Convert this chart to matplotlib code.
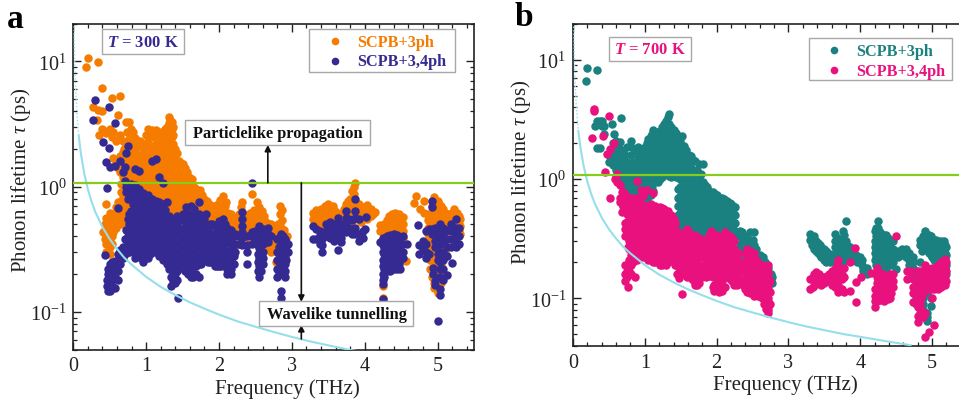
import matplotlib
matplotlib.use("Agg")
from matplotlib import pyplot as plt
from matplotlib.lines import Line2D
from matplotlib.patches import Rectangle
from matplotlib.ticker import LogLocator, MultipleLocator, NullFormatter

plt.rcParams['font.family'] = ['Liberation Serif', 'DejaVu Serif']
plt.rcParams['mathtext.fontset'] = 'custom'
plt.rcParams['mathtext.rm'] = 'Liberation Serif'
plt.rcParams['mathtext.it'] = 'Liberation Serif:italic'
plt.rcParams['mathtext.bf'] = 'Liberation Serif:bold'
plt.rcParams['mathtext.bfit'] = 'Liberation Serif:italic:bold'

W, H = 959, 402

# limit curve, same in both panels
limit_freq = [.01, .02, .03, .05, .075, .1, .15, .2, .25, .3, .4, .5, .6, .7, .8, 1.0, 1.2, 1.4, 1.6, 1.8,
              2.0, 2.25, 2.5, 2.75, 3, 3.25, 3.5, 3.77, 4.0, 4.35, 4.7]
limit_tau = [19, 9.5, 6.3, 3.8, 2.53, 1.9, 1.27, .95, .76, .63, .475, .38, .317, .27, .238, .19, .158, .136,
             .119, .106, .095, .084, .076, .069, .063, .058, .054, .05, .0475, .0437, .0404]

# panel a, 300 K, SCPB+3ph: one frequency column, then its lifetimes
a3_freq = [.18, .2, .27, .32, .335, .35, .39, .41, .43, .45, .5, .53, .55, .58, .61, .64, .68, .72, .77, .79, .85,
           .91, .97, 1.03, 1.08, 1.14, 1.2, 1.26, 1.31, 1.35, 1.39, 1.45, 1.5, 1.56, 1.63, 1.68, 1.74, 1.8, 1.86,
           1.92, 1.98, 2.05, 2.1, 2.16, 2.22, 2.28, 2.32, 2.38, 2.45, 2.52, 2.59, 2.65, 2.72, 2.78, 2.84, 2.89,
           2.94, 3.29, 3.33, 3.4, 3.45, 3.5, 3.56, 3.62, 3.68, 3.74, 3.8, 3.85, 3.87, 3.92, 3.98, 4.03, 4.08,
           4.14, 4.21, 4.25, 4.27, 4.33, 4.38, 4.42, 4.47, 4.53, 4.57, 4.67, 4.71, 4.76, 4.82, 4.87, 4.9, 4.95,
           5.0, 5.05, 5.1, 5.16, 5.22, 5.27, 5.31]
a3_tau = [[9.0], [10.6], [4.3], [3.4], [9.8, 4.1], [2.6], [6.1, 4.0, 2.9], [2.8, .43], [.5, .45, .38],
          [2.65, .72, .56, .42, .35, .3], [2.9, .62, .52, .44, .38, .33, .29], [5.1, 2.5, .54, .47, .4, .35],
          [2.7, 1.7, .6, .5, .43], [2.3, 1.55, .68, .56, .47], [3.7, 1.65, 1.4, .75, .62, .52],
          [5.3, 2.6, 1.75, 1.3, .7, .58, .5], [2.3, 1.9, 1.5, 1.2, .83, .72, .6, .5],
          [3.3, 2.1, 1.6, 1.35, 1.12, .95, .8, .68, .58],
          [3.3, 2.4, 1.95, 1.6, 1.36, 1.16, .98, .83, .7, .59, .5],
          [2.9, 2.1, 1.78, 1.5, 1.26, 1.07, .9, .76, .64, .54],
          [2.45, 1.93, 1.63, 1.38, 1.16, .98, .83, .7, .59, .5],
          [2.3, 1.78, 1.5, 1.26, 1.07, .9, .76, .64, .54],
          [2.2, 1.93, 1.63, 1.38, 1.16, .98, .83, .7, .59, .5],
          [2.9, 2.3, 1.78, 1.5, 1.26, 1.07, .9, .76, .64, .54],
          [2.85, 2.1, 1.63, 1.38, 1.16, .98, .83, .7, .59, .5],
          [2.85, 2.2, 1.85, 1.5, 1.26, 1.07, .9, .76, .64, .54],
          [2.7, 2.3, 1.93, 1.63, 1.38, 1.16, .98, .83, .7, .59, .5],
          [2.9, 2.5, 2.1, 1.78, 1.5, 1.26, 1.07, .9, .76, .64, .54],
          [3.6, 3.2, 2.8, 2.4, 2.05, 1.7, 1.4, 1.16, .98, .83, .7, .59],
          [3.3, 2.9, 2.5, 2.15, 1.8, 1.5, 1.26, 1.07, .9, .76, .64, .54],
          [2.0, 1.7, 1.38, 1.16, .98, .83, .7, .59], [1.6, 1.3, 1.07, .9, .76, .64, .54],
          [1.5, 1.2, .98, .83, .7, .59, .5], [1.3, 1.07, .9, .76, .64, .54], [1.15, 1.05, .95, .83, .7, .59, .5],
          [.95, .76, .64, .54, .45], [.93, .78, .66, .56, .47], [.8, .68, .57, .48, .4], [.72, .6, .5, .42],
          [.7, .58, .5, .42], [.72, .6, .5, .42], [.84, .72, .62, .52, .44, .37, .3], [.75, .6, .5, .42, .3, .26],
          [.6, .5, .43, .34, .28], [.56, .47, .4, .34], [.6, .5, .42, .35], [.75, .62, .52, .44],
          [.55, .46, .4, .34], [.87, .6, .5, .42, .36], [.75, .6, .5, .42, .35], [.64, .54, .45, .38],
          [.52, .44, .38, .32], [.5, .42, .36, .3], [.45, .38, .32, .25], [.7, .6, .5, .42, .36, .3],
          [.45, .38, .32, .26], [.4, .35, .3], [.62, .55], [.65, .57, .5], [.66, .58, .51], [.7, .6, .52],
          [.72, .63, .55, .48], [.7, .6, .52], [.62, .55, .48], [.6, .52], [.72, .62, .54, .47], [.8, .68, .58, .5],
          [1.0, .87, .77, .66, .57], [1.07, .7], [.72, .62, .54], [.66, .58], [.71, .62, .55], [.66, .58], [.63],
          [.49, .44], [.16, .13], [.5, .44, .4], [.58, .5, .44, .39, .35], [.6, .53, .46, .4, .36],
          [.61, .54, .47, .41, .36], [.6, .53, .46, .4, .36], [.57, .5, .44, .39, .35], [.255], [.74], [.84], [.66],
          [.77, .62], [.6, .54, .47, .42], [.5, .44, .38, .33, .29, .26, .22],
          [.83, .72, .62, .52, .45, .38, .33, .28, .24, .2, .17, .155],
          [.76, .66, .56, .45, .35, .3, .26, .22, .19, .16, .14],
          [.7, .6, .52, .46, .4, .34, .28, .24, .2, .17], [.62, .54, .46, .4, .34, .3], [.6, .52, .46],
          [.66, .58, .5, .44], [.62, .54, .46, .4], [.55, .48, .42]]
# more of the same series, in the gaps of the dense blobs
a3_freq2 = [.66, .7, .74, .82, .88, .94, 1.0, 1.06, 1.11, 1.17, 1.23, 1.29, 1.33, 1.37, 1.42, 1.48, 1.53, 1.59, 1.65,
            1.71, 1.77, 1.83, 1.89, 1.95, 2.02, 2.08, 2.13, 2.19, 2.25, 2.3, 2.35, 2.42, 2.48, 2.55, 2.62, 2.69, 2.75,
            2.81, 2.87, 3.31, 3.37, 3.43, 3.48, 3.53, 3.59, 3.65, 3.71, 3.77, 3.83, 3.9, 3.95, 4.0, 4.06, 4.11, 4.3,
            4.36, 4.4, 4.45, 4.5, 4.92, 4.97, 5.02, 5.08, 5.13, 5.2, 5.25, 5.29]
a3_tau2 = [[1.65, 1.05, .9, .77, .65, .55], [2.0, 1.75, 1.35, 1.02, .88, .74, .63, .53],
           [2.7, 1.85, 1.47, 1.22, 1.03, .87, .74, .62], [2.7, 2.2, 1.72, 1.46, 1.23, 1.03, .87, .74, .62, .53],
           [2.1, 1.65, 1.38, 1.16, .98, .83, .7, .59, .5], [2.05, 1.72, 1.46, 1.23, 1.03, .87, .74, .62, .53],
           [2.6, 2.05, 1.65, 1.38, 1.16, .98, .83, .7, .59], [2.6, 1.95, 1.7, 1.46, 1.23, 1.03, .87, .74, .62],
           [2.5, 1.95, 1.72, 1.38, 1.16, .98, .83, .7, .59], [2.55, 2.05, 1.72, 1.46, 1.2, 1.03, .87, .74, .62],
           [2.6, 2.15, 1.85, 1.6, 1.3, 1.12, .95, .8, .67], [3.0, 2.6, 2.25, 1.9, 1.63, 1.38, 1.16, .98, .83, .7],
           [3.4, 3.0, 2.65, 2.25, 1.9, 1.6, 1.3, 1.12, .95, .8, .67], [3.0, 2.6, 2.2, 1.85, 1.5, 1.26, 1.02, .88, .74, .62],
           [1.85, 1.45, 1.2, 1.0, .85, .7, .6], [1.55, 1.25, 1.02, .86, .73, .62], [1.4, 1.13, .94, .8, .67, .56],
           [1.2, 1.0, .86, .73, .62, .53], [1.0, .88, .75, .62, .52], [.9, .8, .68, .57, .48], [.85, .72, .61, .52, .44],
           [.76, .64, .54, .46], [.68, .57, .48], [.7, .6, .5], [.78, .66, .56, .47], [.7, .58, .47, .4], [.62, .52, .44],
           [.54, .45, .38], [.56, .47, .4], [.68, .57, .47], [.58, .48, .4], [.62, .52, .44], [.65, .55, .46, .38],
           [.68, .58, .48, .4], [.58, .5, .42, .36], [.5, .43, .36], [.47, .4, .33], [.5, .43, .36, .3],
           [.65, .54, .46, .38, .32], [.6, .53], [.62, .54], [.64, .56, .49], [.68, .6, .5], [.66, .58, .5],
           [.64, .56, .49], [.6, .52], [.66, .57, .5], [.76, .64, .55], [.92, .72, .62, .53], [.68, .58], [.68, .6, .52],
           [.68, .6], [.63], [.6], [.54, .47, .42, .37], [.58, .51, .45, .39], [.56, .5, .43, .38], [.58, .5, .43, .38],
           [.56, .48, .42, .37], [.7, .6, .5, .42, .35, .3, .26, .22, .19], [.78, .66, .56, .48, .41, .35, .3, .26, .22, .18],
           [.72, .62, .54, .47, .42, .36, .3, .26, .21, .18], [.66, .56, .5, .43, .36, .31], [.6, .52, .45, .38],
           [.62, .54, .47], [.6, .5, .43], [.58, .5, .44]]

# panel a, 300 K, SCPB+3,4ph
a34_freq = [.27, .3, .41, .44, .45, .46, .47, .49, .5, .53, .57, .61, .64, .68, .71, .72, .75, .79, .85, .9, .96,
            1.02, 1.08, 1.13, 1.18, 1.23, 1.29, 1.34, 1.39, 1.44, 1.5, 1.55, 1.61, 1.66, 1.72, 1.77, 1.82, 1.88,
            1.94, 2.0, 2.06, 2.11, 2.17, 2.22, 2.28, 2.32, 2.38, 2.45, 2.5, 2.55, 2.6, 2.67, 2.72, 2.8, 2.85, 2.9,
            2.95, 3.29, 3.33, 3.38, 3.42, 3.47, 3.52, 3.58, 3.64, 3.68, 3.74, 3.78, 3.82, 3.87, 3.92, 3.97, 4.0,
            4.02, 4.21, 4.25, 4.3, 4.35, 4.4, 4.44, 4.49, 4.53, 4.58, 4.73, 4.75, 4.8, 4.84, 4.88, 4.92, 4.94, 4.97,
            5.0, 5.03, 5.08, 5.13, 5.18, 5.2, 5.25, 5.3]
a34_tau = [[3.4], [4.9], [2.27], [.285], [1.57], [.97, .18, .16], [.147, .2, .22], [4.3, 2.03],
           [1.44, .24, .19, .165, .147], [.25, .21, .18, .16], [3.2, 1.47, .255, .22, .19, .155],
           [.67, .29, .25, .21, .18], [1.6, .31, .27, .24], [1.3, .33, .31, .27], [1.43, 1.1, .38, .33, .29],
           [1.86, 1.0, .9, .45], [2.11, 1.0, .88, .8, .55, .46, .4, .34, .3], [1.05, .92, .82, .64, .52, .44, .38, .32],
           [1.38, 1.02, .9, .85, .7, .6, .5, .42, .36, .31, .27], [1.33, .95, .72, .6, .5, .42, .36, .3],
           [.88, .64, .54, .46, .39, .33, .28, .25], [.85, .7, .59, .5, .42, .36, .3, .27],
           [1.6, .8, .64, .54, .46, .39, .33, .31], [1.65, .76, .59, .5, .42, .36, .3],
           [1.19, .75, .64, .54, .46, .39, .33, .28], [1.07, .72, .59, .5, .42, .36, .3, .26],
           [.75, .56, .46, .39, .33, .28, .24], [.55, .42, .36, .3, .26, .22, .19, .16],
           [.56, .46, .39, .33, .28, .24, .2, .17], [.55, .42, .36, .3, .26, .22, .13], [.6, .46, .39, .33, .28, .24],
           [.68, .5, .42, .36, .3, .25, .21], [.7, .55, .46, .39, .33, .27, .22, .19],
           [.66, .5, .42, .36, .3, .25, .2], [.75, .6, .46, .39, .33, .28, .24, .19], [.57, .5, .42, .36, .3, .26],
           [.6, .46, .39, .33, .28], [.5, .42, .36, .3, .25], [.48, .39, .33, .28, .23], [.53, .42, .36, .3, .25, .23],
           [.55, .46, .39, .33, .28, .24], [.47, .42, .36, .3, .22, .2], [.45, .36, .32, .26, .22, .2],
           [.42, .35, .3], [.4, .35], [.63, .55, .48, .43, .39, .34], [.4, .34, .3, .24], [1.07, .43, .4, .35],
           [.44, .38], [.48, .42, .37, .32, .27, .23, .19], [.46, .4, .35, .3, .27, .24], [.47, .42, .36], [.4],
           [.38, .3, .26, .22, .19], [.42, .36, .31, .27, .23, .2, .147, .13], [.38, .33, .28, .24, .21, .19], [.35, .3],
           [.48, .38], [.46, .38], [.44, .41, .38, .35], [.42, .38, .34, .3], [.5, .44, .4], [.52, .46, .42, .39],
           [.5, .44, .4, .37], [.56, .48, .43, .4, .38, .31], [.5, .44, .39, .36], [.64, .56, .48, .43], [.55, .47],
           [.54, .46, .42], [.79, .64, .56, .47, .42], [.55, .42, .37], [.44, .39], [.46], [.57], [.36],
           [.39, .34, .3, .26, .23, .2, .18, .167, .127], [.4, .35, .31, .27, .24, .21], [.41, .36, .32, .28, .24, .21],
           [.42, .37, .33, .29, .25, .22], [.41, .36, .32, .28, .24, .22], [.39, .34, .3, .26, .22], [.4, .35, .3, .27],
           [.35], [.49], [.34, .29], [.37, .33, .31], [.44, .35, .3, .27], [.46, .29], [.77, .69, .46, .42], [.223, .2],
           [.47, .42, .37, .33, .176, .165], [.47, .39, .34, .29, .26, .085],
           [.5, .45, .4, .35, .3, .25, .22, .19, .153, .136], [.47, .42, .36, .3, .26, .22, .18],
           [.45, .38, .33, .28, .197], [.5, .44, .38, .33], [.245], [.55, .47, .42, .36, .33], [.47, .4, .35]]
a34_freq2 = [.77, .82, .87, .93, .99, 1.05, 1.1, 1.16, 1.21, 1.26, 1.32, 1.37, 1.42, 1.47, 1.53, 1.58, 1.64, 1.69, 1.75,
             1.8, 1.85, 1.91, 1.97, 2.03, 2.08, 2.14, 2.2, 2.53, 2.57, 2.83, 2.88, 2.92, 4.27, 4.33, 4.38, 4.42, 4.47]
a34_tau2 = [[.95, .6, .5, .42, .36, .3], [1.0, .88, .72, .56, .47, .41, .35, .3], [.78, .66, .55, .46, .39, .33, .29],
            [.83, .69, .58, .48, .41, .35, .3, .27], [.76, .62, .52, .44, .37, .31, .27], [.72, .64, .54, .46, .39, .33, .29],
            [.7, .6, .5, .42, .36, .3], [.68, .56, .48, .41, .35, .3], [.66, .56, .48, .41, .34, .29],
            [.65, .52, .43, .36, .31, .26], [.58, .5, .42, .36, .31, .26, .22], [.52, .46, .39, .33, .28, .24, .2, .175],
            [.58, .49, .41, .35, .3, .25, .21, .18], [.54, .46, .39, .33, .28, .24], [.55, .46, .39, .33, .28, .24, .21],
            [.6, .49, .41, .35, .29, .24, .2], [.6, .46, .39, .33, .27, .23, .19], [.55, .46, .39, .33, .28, .23, .2],
            [.53, .46, .38, .33, .28, .24], [.55, .42, .36, .3, .26], [.46, .4, .33, .28, .25], [.5, .42, .36, .3, .25],
            [.46, .38, .33, .28, .23], [.5, .42, .36, .3, .26, .23], [.5, .42, .36, .28, .23], [.42, .36, .3, .25, .21],
            [.4, .34, .28, .24], [.4, .34, .29, .25, .21], [.44, .39, .34, .29, .25, .21], [.39, .33, .29, .25, .22, .2],
            [.4, .35, .3, .26, .22], [.36, .31, .26], [.38, .33, .29, .25, .22, .19], [.38, .33, .29, .26, .23],
            [.39, .34, .3, .26, .23], [.39, .34, .3, .26, .23], [.37, .32, .28, .24]]

# panel b, 700 K, SCPB+3ph
b3_freq = [.18, .2, .31, .34, .37, .4, .43, .5, .54, .55, .57, .6, .65, .67, .7, .75, .81, .87, .91, .97, 1.03, 1.08,
           1.12, 1.18, 1.24, 1.3, 1.34, 1.4, 1.46, 1.52, 1.58, 1.64, 1.7, 1.75, 1.81, 1.87, 1.92, 1.98, 2.04, 2.1,
           2.15, 2.2, 2.25, 2.33, 2.38, 2.43, 2.47, 2.52, 2.58, 2.63, 2.67, 2.72, 2.77, 3.3, 3.35, 3.41, 3.46, 3.52,
           3.58, 3.62, 3.65, 3.7, 3.76, 3.8, 3.85, 3.9, 3.96, 4.02, 4.04, 4.09, 4.2, 4.25, 4.3, 4.36, 4.41, 4.45, 4.5,
           4.53, 4.58, 4.63, 4.68, 4.73, 4.78, 4.83, 4.88, 4.9, 4.93, 4.98, 5.03, 5.08, 5.13, 5.18, 5.2]
b3_tau = [[6.6], [8.5], [2.8], [8.3, 3.05, 1.83], [3.05, 1.83], [2.8, 3.1], [2.8, 2.4], [1.6, 1.4], [2.9],
          [2.0, 1.75, 1.5, 1.3], [2.4], [2.1, 1.85, 1.6, 1.4, 1.2, 1.05], [2.05, 1.8, 1.55, 1.35, 1.15], [3.25],
          [1.7, 1.5, 1.3, 1.15, 1.0, .85, .7, .6], [1.85, 1.4, 1.2, 1.02, .88, .76, .65, .56],
          [2.08, 1.85, 1.6, 1.25, 1.07, .92, .79, .68, .58], [1.75, 1.35, 1.15, .98, .85, .73, .62],
          [1.86, 1.55, 1.25, 1.07, .92, .79, .68, .58], [1.6, 1.35, 1.15, .98, .85, .73, .62],
          [2.0, 1.75, 1.5, 1.25, 1.07, .92, .79, .68], [2.3, 1.9, 1.62, 1.35, 1.15, .98, .85, .73],
          [2.58, 2.2, 1.85, 1.55, 1.3, 1.1, .95, .8], [2.4, 2.05, 1.75, 1.5, 1.25, 1.07, .95],
          [2.73, 2.3, 1.95, 1.65, 1.4, 1.2, 1.05], [3.1, 2.65, 2.2, 1.85, 1.55, 1.3, 1.1],
          [3.5, 2.9, 2.45, 2.0, 1.7, 1.45, 1.2, 1.07], [2.6, 2.2, 1.85, 1.55, 1.3, 1.12],
          [2.3, 1.95, 1.65, 1.4, 1.2, 1.05, .82, .7, .6, .5, .42],
          [2.3, 1.85, 1.55, 1.3, 1.1, .9, .77, .65, .55, .46, .4],
          [1.75, 1.45, 1.2, 1.0, .85, .72, .6, .5, .43, .37],
          [1.55, 1.25, 1.05, .88, .75, .63, .53, .45, .39, .36],
          [1.42, 1.15, .95, .8, .68, .57, .48, .42, .36, .33], [1.35, 1.05, .85, .72, .6, .51, .44, .38, .33],
          [1.34, .94, .78, .66, .56, .47, .41, .36], [.86, .72, .6, .51, .44, .38, .33], [.75, .65, .55, .47, .41, .36],
          [.75, .63, .53, .46, .4, .35], [.7, .6, .5, .44, .38, .34], [.68, .57, .48, .42, .37, .33],
          [.65, .55, .47, .41, .36, .32], [.62, .53, .45, .39, .34, .3], [.58, .5, .43, .37], [.37, .33, .28],
          [.33, .28, .23, .17], [.3, .25, .2, .16], [.36, .31, .27, .23, .19, .16], [.36, .28, .24, .2, .17],
          [.226, .2, .17, .15], [.21, .18, .15], [.2, .17], [.18, .16, .14], [.15, .135], [.345, .31], [.33, .29, .26],
          [.29, .26, .24], [.27, .24, .22], [.25, .22, .2], [.23, .2], [.2], [.345, .3, .27, .24, .21],
          [.28, .25, .22, .2], [.37, .32, .28, .25, .22, .2], [.445, .3, .27, .24, .21], [.27, .24, .22], [.24, .22],
          [.22, .2], [.21, .19], [.18, .17], [.18, .16], [.365, .3, .27, .24, .21],
          [.445, .39, .33, .29, .26, .23, .2, .18], [.33, .29, .26, .23, .2, .18], [.34, .3, .26, .23, .2, .17],
          [.31, .27, .24, .21, .19], [.3, .26, .23, .2], [.175], [.25, .22], [.26, .23], [.26, .22], [.24, .21, .19],
          [.22, .2, .18, .16], [.17, .15, .13, .11, .1, .09], [.31, .28, .2, .15, .12, .1], [.33, .29, .26, .1, .09, .08],
          [.365], [.32, .29, .26, .13, .11, .075, .07, .064], [.33, .29, .26, .23, .1, .086], [.31, .27, .24, .21, .18],
          [.3, .26, .23, .2], [.3, .26, .23, .2, .17], [.28, .24, .21, .18, .16], [.27, .23, .19, .16]]
b3_freq2 = [.63, .72, .78, .84, .89, .94, 1.0, 1.05, 1.1, 1.15, 1.21, 1.27, 1.32, 1.37, 1.43, 1.49, 1.55, 1.61, 1.67, 1.73,
            1.78, 1.84, 1.9, 1.95, 2.01, 2.07, 2.12, 2.18, 2.23, 2.36, 2.41, 2.5, 2.55, 2.61, 2.65, 2.7, 2.75, 3.33, 3.38,
            3.44, 3.5, 3.55, 3.67, 3.73, 3.78, 3.82, 3.88, 3.94, 4.0, 4.22, 4.27, 4.33, 4.38, 4.43, 4.86, 4.95, 5.0, 5.06,
            5.11, 5.16]
b3_tau2 = [[1.9, 1.7, 1.5, 1.28, 1.1], [1.6, 1.4, 1.22, 1.07, .92, .78, .66], [1.3, 1.1, .95, .82, .7, .6],
           [1.4, 1.25, 1.0, .85, .73, .63], [1.15, 1.0, .86, .73, .63], [1.72, 1.45, 1.2, 1.0, .85, .73],
           [1.85, 1.6, 1.4, 1.2, 1.0, .85, .73], [2.15, 1.8, 1.55, 1.3, 1.1, .95, .8], [2.4, 2.0, 1.72, 1.45, 1.22, 1.05, .88],
           [2.5, 2.15, 1.8, 1.55, 1.3, 1.12], [2.55, 2.15, 1.85, 1.6, 1.35, 1.15, 1.0], [2.9, 2.45, 2.05, 1.75, 1.47, 1.25, 1.1],
           [3.3, 2.8, 2.35, 2.0, 1.7, 1.45, 1.2], [2.75, 2.3, 1.95, 1.62, 1.35, 1.15, 1.05], [2.45, 2.05, 1.72, 1.45, 1.22, 1.05],
           [2.1, 1.75, 1.48, 1.2, 1.0, .85, .72, .62, .52, .44, .38], [1.9, 1.6, 1.35, 1.1, .92, .78, .66, .56, .46, .4],
           [1.6, 1.35, 1.12, .95, .8, .68, .57, .48, .41, .36], [1.45, 1.2, 1.0, .85, .72, .6, .5, .43, .37],
           [1.2, 1.0, .85, .72, .6, .52, .44, .38, .34], [1.1, .95, .8, .68, .57, .48, .42, .36], [.9, .78, .66, .56, .48, .41, .36],
           [.8, .7, .6, .51, .44, .38, .34], [.78, .68, .58, .5, .43, .38], [.73, .63, .54, .47, .41, .36],
           [.7, .62, .53, .45, .39, .35], [.66, .56, .48, .42, .37], [.63, .54, .46, .4, .34], [.6, .52, .44, .38, .33],
           [.36, .3, .25, .19], [.32, .27, .22, .18], [.31, .26, .22, .18], [.26, .22, .19, .16], [.23, .2, .17], [.22, .18, .16],
           [.19, .17], [.16, .14], [.31, .28], [.3, .27, .25], [.28, .25, .23], [.26, .23, .21], [.24, .21], [.32, .28, .25, .22],
           [.3, .27, .24, .21], [.34, .3, .26, .23], [.28, .25, .22], [.25, .23], [.23, .21], [.22, .2],
           [.39, .33, .28, .25, .22, .19], [.36, .31, .27, .24, .21, .18], [.34, .3, .26, .23, .2, .18], [.32, .28, .25, .22, .19],
           [.3, .26, .23, .2], [.31, .28, .25], [.34, .3, .27, .24], [.31, .28, .25, .22], [.31, .27, .24, .21],
           [.28, .25, .22, .19], [.3, .26, .23, .2, .17]]

# panel b, 700 K, SCPB+3,4ph
b34_freq = [.26, .29, .42, .45, .47, .5, .52, .57, .58, .61, .65, .68, .7, .72, .75, .77, .81, .86, .89, .95, 1.0, 1.03,
            1.07, 1.11, 1.16, 1.21, 1.27, 1.32, 1.37, 1.42, 1.47, 1.52, 1.59, 1.65, 1.7, 1.76, 1.82, 1.87, 1.92, 1.97,
            2.03, 2.08, 2.14, 2.19, 2.24, 2.28, 2.33, 2.37, 2.42, 2.47, 2.52, 2.57, 2.63, 2.69, 2.72, 2.74, 3.3, 3.34,
            3.38, 3.43, 3.49, 3.54, 3.6, 3.65, 3.69, 3.74, 3.78, 3.85, 3.92, 3.94, 4.01, 4.15, 4.2, 4.23, 4.28, 4.33,
            4.38, 4.43, 4.46, 4.5, 4.65, 4.7, 4.74, 4.8, 4.85, 4.9, 4.95, 5.0, 5.03, 5.08, 5.13, 5.18, 5.2]
b34_tau = [[2.2], [3.86, 3.7], [2.3], [1.15], [1.62], [3.37], [1.79, .7], [2.0], [1.0], [1.1, .95], [.9, .7, .64],
           [.78, .53], [.78, .7, .6], [.75, .62, .43, .38, .33, .19, .16, .14], [.64, .51, .44, .38, .33, .19, .17, .15],
           [.62, .27, .124], [.7, .58, .49, .42, .36, .31, .23, .19, .16], [.7, .6, .5, .43, .37, .32, .27, .24, .15],
           [.96, .7, .55, .47, .4, .34, .29, .25, .21], [.81, .62, .52, .45, .39, .33, .28, .24],
           [.6, .51, .44, .38, .33, .28, .24], [.81, .6, .5, .43, .37, .32, .27, .23], [.59, .49, .42, .36, .31, .26, .22],
           [.76, .59, .5, .43, .37, .32, .27, .23, .2], [.57, .48, .41, .36, .31, .26, .22],
           [.58, .5, .43, .37, .32, .27, .23, .19], [.56, .47, .4, .35, .3, .25, .21], [.54, .46, .39, .33, .28, .24, .2],
           [.5, .42, .36, .31, .26, .22], [.43, .36, .3, .26, .22, .19], [.34, .29, .25, .21, .18, .148],
           [.34, .28, .24, .2, .17, .108], [.38, .33, .28, .24, .2, .17, .15], [.33, .28, .24, .2, .17, .145],
           [.34, .29, .25, .21, .18, .15, .13], [.32, .27, .23, .19, .16, .135], [.3, .26, .22, .19, .16],
           [.31, .26, .22, .19, .16], [.365, .32, .27, .23, .2, .17], [.32, .27, .23, .19, .16, .13, .115],
           [.3, .26, .22, .19, .16, .135, .113], [.33, .28, .24, .2, .17, .14, .115], [.33, .28, .24, .2, .17, .15],
           [.33, .28, .24, .2, .17, .145], [.3, .26, .22, .18, .15, .13], [.22, .19, .16, .13], [.2, .17, .14],
           [.2, .17, .145, .13], [.26, .21, .15, .13, .113], [.25, .22, .18, .15, .125, .11],
           [.24, .2, .17, .14, .12, .105], [.2, .17, .14, .12, .105], [.19, .16, .13, .11, .1],
           [.175, .15, .12, .105, .09, .082], [.19, .16, .13, .11, .095, .085, .075], [.14, .113, .09], [.145, .119],
           [.15, .125], [.165, .15, .132], [.16, .14], [.15, .135], [.155, .14], [.17, .15, .13], [.176, .155, .14, .125],
           [.21, .17, .15, .13, .112], [.16, .145, .12], [.18, .15, .112], [.2, .114], [.263], [.137, .093], [.15], [.163],
           [.12, .105, .095, .084], [.18, .15, .135, .12, .105, .095], [.155, .14, .125, .11, .097],
           [.15, .135, .12, .105, .095], [.155, .14, .125, .11, .098], [.155, .14, .125, .11], [.16, .14, .125], [.33],
           [.17, .145], [.17, .15], [.145, .125, .11, .093], [.17, .14, .12, .1, .085, .071, .063],
           [.17, .15, .13, .1, .08], [.19, .16, .14, .12, .075, .047], [.17, .14, .12, .052], [.18, .15, .13, .1],
           [.17, .14, .12, .06], [.19, .17, .145, .12], [.2, .17, .15, .125], [.213, .18, .155, .13], [.2, .17, .14]]
b34_freq2 = [.78, .84, .92, .98, 1.05, 1.09, 1.14, 1.19, 1.24, 1.3, 1.35, 1.4, 1.45, 1.5, 1.56, 1.62, 1.68, 1.73, 1.79, 1.85,
             1.9, 1.95, 2.0, 2.06, 2.11, 2.17, 2.22, 2.3, 2.4, 2.45, 2.5, 2.55, 2.6, 2.66, 2.71, 3.36, 3.46, 3.57, 3.62, 3.67,
             4.25, 4.31, 4.36, 4.41, 4.83, 4.88, 4.93, 4.98, 5.05, 5.1, 5.15]
b34_tau2 = [[.66, .54, .46, .4, .35, .3, .26, .21, .17], [.65, .54, .46, .4, .34, .29, .25, .2], [.66, .57, .49, .42, .36, .31, .27, .23],
            [.72, .56, .47, .41, .35, .3, .26, .22], [.55, .46, .39, .34, .29, .24, .21], [.62, .53, .45, .39, .34, .29, .25, .21],
            [.6, .52, .44, .38, .33, .28, .24, .2], [.56, .47, .4, .34, .29, .25, .21], [.57, .5, .43, .37, .32, .27, .23, .19],
            [.52, .44, .37, .31, .27, .23, .19], [.48, .4, .34, .29, .24, .21], [.46, .39, .33, .28, .24, .2],
            [.37, .31, .27, .23, .19, .16], [.31, .26, .22, .19, .16], [.36, .3, .26, .22, .18, .16], [.35, .3, .26, .22, .18, .155],
            [.31, .26, .22, .19, .16, .14], [.3, .25, .21, .18, .15, .13], [.31, .26, .22, .18, .15], [.28, .24, .2, .17, .15],
            [.34, .29, .25, .21, .18, .155], [.3, .25, .21, .18, .15, .125], [.34, .29, .25, .21, .18, .145, .125],
            [.31, .26, .22, .18, .15, .125], [.36, .3, .26, .22, .19, .155, .125], [.31, .26, .22, .18, .155],
            [.32, .27, .23, .19, .16, .14], [.24, .2, .175, .145], [.24, .19, .165, .14, .12], [.23, .19, .165, .14, .12],
            [.22, .18, .155, .13, .115], [.21, .18, .155, .13, .11], [.18, .15, .125, .105], [.17, .14, .115, .1, .09],
            [.165, .14, .12, .1, .09, .08], [.16, .14], [.15, .13], [.16, .145], [.16, .14], [.19, .16, .13],
            [.165, .145, .125, .11, .1], [.16, .14, .125, .11, .1], [.15, .13, .115, .1], [.16, .145, .13, .115, .1],
            [.16, .13, .11, .09, .075], [.17, .15, .13, .11, .07], [.18, .15, .13], [.16, .14, .12], [.18, .155, .13],
            [.19, .16, .135], [.2, .17, .14]]

ORANGE, NAVY, TEAL, PINK = '#F57C00', '#352A91', '#1B8180', '#E8117E'
GREEN, CYAN, BOX = '#86CC1A', '#95DFEA', '#A8A8A8'


def flatten(freq, tau, freq2, tau2):
    xs, ys = [], []
    for f, column in zip(freq + freq2, tau + tau2):
        for t in column:
            xs.append(f)
            ys.append(t)
    return xs, ys


def box(fig, x0, y0, x1, y1):
    # pixel corners, measured from the top left of the picture
    fig.add_artist(Rectangle((x0 / W, 1 - y1 / H), (x1 - x0) / W, (y1 - y0) / H, transform=fig.transFigure,
                             facecolor='white', edgecolor=BOX, linewidth=1.0, zorder=2))


def label(fig, x, y, text, **kwargs):
    fig.text(x / W, 1 - y / H, text, ha='center', va='center', zorder=3, **kwargs)


def legend_row(fig, x_dot, x_text, y, text, color):
    fig.add_artist(Line2D([x_dot / W], [1 - y / H], ls='', marker='o', ms=5.5, mew=0, color=color,
                          transform=fig.transFigure, zorder=3))
    fig.text(x_text / W, 1 - (y + 1) / H, text, ha='left', va='center', color=color, fontsize=11.7, fontweight='bold', zorder=3)


def panel(fig, rect, ylim, data3, data34, colors, green_tau):
    x0, y0, x1, y1 = rect
    ax = fig.add_axes([x0 / W, 1 - y1 / H, (x1 - x0) / W, (y1 - y0) / H])
    ax.scatter(*flatten(*data3), s=37, color=colors[0], linewidths=0, zorder=2, clip_on=False)
    ax.scatter(*flatten(*data34), s=37, color=colors[1], linewidths=0, zorder=3, clip_on=False)
    # the steep start of the curve is only a faint dotted trace in the reference
    ax.plot(limit_freq[:5], limit_tau[:5], color=CYAN, lw=1.0, ls=(0, (1, 1.5)), zorder=4)
    ax.plot(limit_freq[4:], limit_tau[4:], color=CYAN, lw=1.5, zorder=4)
    ax.axhline(green_tau, color=GREEN, lw=1.6, zorder=5)
    ax.set_yscale('log')
    ax.set_xlim(0, 5.5)
    ax.set_ylim(*ylim)
    ax.set_xticks([0, 1, 2, 3, 4, 5])
    ax.xaxis.set_minor_locator(MultipleLocator(0.2))
    ax.set_yticks([.1, 1, 10])
    ax.set_yticklabels(['$10^{-1}$', '$10^{0}$', '$10^{1}$'])
    ax.yaxis.set_minor_locator(LogLocator(base=10, subs=range(2, 10), numticks=12))
    ax.yaxis.set_minor_formatter(NullFormatter())
    ax.tick_params(which='major', direction='in', top=True, right=True, length=5.5, width=1.0,
                   labelsize=14.5, pad=5, color='#222222', labelcolor='#222222')
    ax.tick_params(which='minor', direction='in', top=True, right=True, length=3, width=0.9, color='#222222')
    for spine in ax.spines.values():
        spine.set_linewidth(1.2)
        spine.set_color('#222222')
    return ax


fig = plt.figure(figsize=(W / 100, H / 100), dpi=100)

ax_a = panel(fig, (73.3, 24.5, 474, 350.5), (.05, 20), (a3_freq, a3_tau, a3_freq2, a3_tau2),
             (a34_freq, a34_tau, a34_freq2, a34_tau2), (ORANGE, NAVY), 1.07)
ax_b = panel(fig, (573, 25, 968, 346.7), (.04, 20), (b3_freq, b3_tau, b3_freq2, b3_tau2),
             (b34_freq, b34_tau, b34_freq2, b34_tau2), (TEAL, PINK), 1.09)

# arrows of panel a, drawn in data units
arrow = dict(arrowstyle='-|>', color='#111111', lw=1.2, mutation_scale=9, shrinkA=0, shrinkB=0)
ax_a.annotate('', xy=(2.67, 2.15), xytext=(2.67, 1.07), arrowprops=arrow, zorder=6)
ax_a.annotate('', xy=(3.13, .12), xytext=(3.13, 1.07), arrowprops=arrow, zorder=6)
ax_a.annotate('', xy=(3.13, .0785), xytext=(3.13, .0607), arrowprops=arrow, zorder=6)

# legends, drawn by hand so the boxes keep their measured sizes
box(fig, 309, 30, 455, 73)
legend_row(fig, 335, 357, 42, 'SCPB+3ph', ORANGE)
legend_row(fig, 335, 357, 61.5, 'SCPB+3,4ph', NAVY)
box(fig, 809, 39, 952, 81)
legend_row(fig, 834, 856, 50.5, 'SCPB+3ph', TEAL)
legend_row(fig, 834, 856, 70.5, 'SCPB+3,4ph', PINK)

# text boxes
box(fig, 102, 29.5, 184, 55)
label(fig, 143, 43, r'$\mathbfit{T}$ = 300 K', color=NAVY, fontsize=12, fontweight='bold')
box(fig, 609, 37.5, 691, 62)
label(fig, 650, 50, r'$\mathbfit{T}$ = 700 K', color=PINK, fontsize=12, fontweight='bold')
box(fig, 185, 121, 370, 146)
label(fig, 277.5, 134, 'Particlelike propagation', color='#111111', fontsize=11.8, fontweight='bold')
box(fig, 259, 302, 413, 327)
label(fig, 337, 315, 'Wavelike tunnelling', color='#111111', fontsize=11.8, fontweight='bold')

# axis titles and panel letters
label(fig, 287, 389, 'Frequency (THz)', color='#222222', fontsize=15)
label(fig, 785, 385, 'Frequency (THz)', color='#222222', fontsize=15)
label(fig, 21, 180, r'Phonon lifetime $\tau$ (ps)', color='#222222', fontsize=15, rotation=90)
label(fig, 521, 172, r'Phonon lifetime $\tau$ (ps)', color='#222222', fontsize=15, rotation=90)
label(fig, 15, 20, 'a', color='black', fontsize=24, fontweight='bold')
label(fig, 524, 17, 'b', color='black', fontsize=24, fontweight='bold')

fig.savefig('out.png', dpi=100)
